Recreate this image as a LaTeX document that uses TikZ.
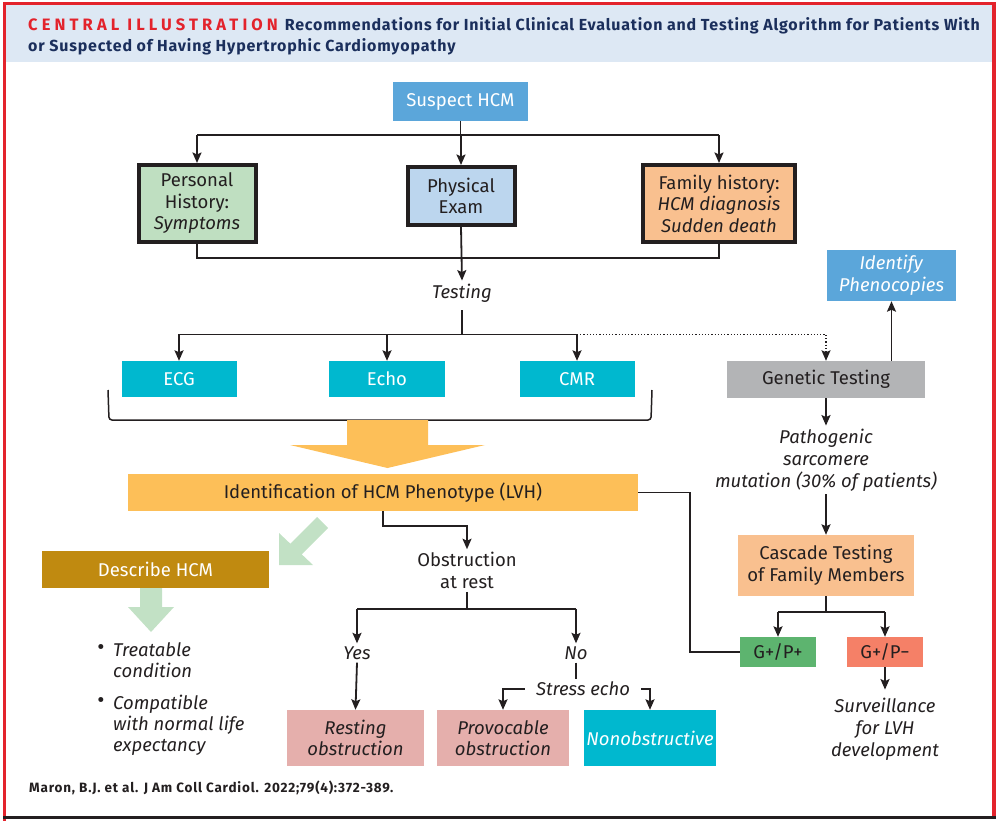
\documentclass[tikz,border=0pt]{standalone}
\usepackage{fontspec}
\setmainfont{Fira Sans}
\usetikzlibrary{arrows.meta,positioning,calc}
\definecolor{ink}{HTML}{231F20}
\definecolor{framered}{HTML}{E3232C}
\definecolor{headblue}{HTML}{DDE8F4}
\definecolor{titleblue}{HTML}{1B2F5C}
\definecolor{suspectblue}{HTML}{5BA6DA}
\definecolor{historygreen}{HTML}{BFDFC1}
\definecolor{exambblue}{HTML}{BCD6EE}
\definecolor{familyorange}{HTML}{F9C08F}
\definecolor{testcyan}{HTML}{00B8CF}
\definecolor{genegray}{HTML}{B3B4B6}
\definecolor{phenoorange}{HTML}{FDBF58}
\definecolor{describegold}{HTML}{C08A10}
\definecolor{obstrpink}{HTML}{E5AFAC}
\definecolor{posgreen}{HTML}{5DB46F}
\definecolor{negsalmon}{HTML}{F58067}
\definecolor{hintgreen}{HTML}{C2E1C5}

\begin{document}
\begin{tikzpicture}[
    x=1pt, y=-1pt,
    font=\fontsize{18.5}{21.5}\selectfont,
    plain/.style={inner sep=3pt, align=center, text=ink},
    fillbox/.style={rectangle, inner sep=0pt, align=center, text=ink},
    histbox/.style={fillbox, draw=ink, line width=4pt},
    conn/.style={draw=ink, line width=1.8pt},
    arrow/.style={conn, -{Stealth[length=10.5pt, width=9pt, inset=2pt]}},
    dotarrow/.style={draw=ink, line width=1.2pt, dotted, -{Stealth[length=10.5pt, width=9pt, inset=2pt]}}
]
\useasboundingbox (0,0) rectangle (1002,821);

% frame and header
\fill[headblue] (6,5.5) rectangle (992,62);
\draw[framered, line width=3.5pt] (4.5,821) -- (4.5,3.5) -- (994,3.5) -- (994,817);
\draw[ink, line width=2.5pt] (3,817.5) -- (995.5,817.5);
\node[anchor=base west, inner sep=0pt, align=left, text=titleblue,
      font=\fontsize{16}{21}\selectfont\bfseries\addfontfeature{LetterSpace=5}] (title) at (28,52)
  {{\fontsize{16.5}{21}\selectfont\color{framered}\addfontfeature{LetterSpace=25}CENTRAL ILLUSTRATION}\hspace{7pt}Recommendations for Initial Clinical Evaluation and Testing Algorithm for Patients With\\
   or Suspected of Having Hypertrophic Cardiomyopathy};

% evaluation
\node[fillbox, fill=suspectblue, text=white, minimum width=135pt, minimum height=39pt] (suspect) at (460.5,101.5) {Suspect HCM};
\node[histbox, fill=historygreen, minimum width=117pt, minimum height=77pt] (personal) at (197,203.5) {Personal\\History:\\\textit{Symptoms}};
\node[histbox, fill=exambblue, minimum width=107pt, minimum height=58pt] (physical) at (461,196) {Physical\\Exam};
\node[histbox, fill=familyorange, minimum width=152pt, minimum height=77pt] (family) at (719,203.5) {Family history:\\\textit{HCM diagnosis}\\\textit{Sudden death}};
\node[plain] (testing) at (462,293) {\textit{Testing}};

\draw[conn] (suspect.south) -- ++(0,14) coordinate (split1);
\draw[conn] (personal.north |- split1) -- (family.north |- split1);
\foreach \n in {personal,physical,family}
    \draw[arrow] (\n.north |- split1) -- (\n.north);
\draw[conn] (personal.south) -- ++(0,14) -| (family.south);
\draw[arrow] (physical.south) -- (testing.north);

% testing
\node[fillbox, fill=testcyan, text=white, minimum width=115pt, minimum height=36pt] (ecg) at (179,379) {ECG};
\node[fillbox, fill=testcyan, text=white, minimum width=116pt, minimum height=36pt] (echo) at (387,379) {Echo};
\node[fillbox, fill=testcyan, text=white, minimum width=115pt, minimum height=36pt] (cmr) at (577,379) {CMR};
\node[fillbox, fill=genegray, minimum width=198pt, minimum height=37pt] (genetic) at (826,379.5) {Genetic Testing};
\node[fillbox, fill=suspectblue, text=white, minimum width=129pt, minimum height=51pt] (identify) at (891.5,275.5) {\textit{Identify}\\\textit{Phenocopies}};

\draw[conn, shorten <=5pt] (testing.south) -- ++(0,29) coordinate (split2);
\draw[conn] (ecg.north |- split2) -- (cmr.north |- split2);
\foreach \n in {ecg,echo,cmr}
    \draw[arrow] (\n.north |- split2) -- (\n.north);
\draw[dotarrow] (cmr.north |- split2) -| (genetic.north);
\draw[arrow] (identify.south |- genetic.north) -- (identify.south);

% bracket and big arrow
\draw[ink, line width=1.5pt, rounded corners=3pt] (108,390) -- (109,420) -- (651,420) -- (652,390);
\fill[phenoorange] (347,420) -- (428,420) -- (428,445) -- (485,445) -- (387.5,468) -- (290,445) -- (347,445) -- cycle;

% phenotype
\node[fillbox, fill=phenoorange, minimum width=510pt, minimum height=37pt] (pheno) at (383,492.5) {Identification of HCM Phenotype (LVH)};
\node[plain] (obstr) at (467,570.5) {Obstruction\\at rest};
\node[plain] (yes) at (357,653) {\textit{Yes}};
\node[plain] (no) at (576,653) {\textit{No}};
\node[plain, inner xsep=11pt] (stress) at (583,689) {\textit{Stress echo}};
\node[fillbox, fill=obstrpink, minimum width=137pt, minimum height=56pt] (resting) at (355.5,738) {\textit{Resting}\\\textit{obstruction}};
\node[fillbox, fill=obstrpink, minimum width=132pt, minimum height=56pt] (provoc) at (503,738) {\textit{Provocable}\\\textit{obstruction}};
\node[fillbox, fill=testcyan, text=white, minimum width=132pt, minimum height=56pt] (nonob) at (650,738) {\textit{Nonobstructive}};

\draw[arrow] (pheno.south) -- ++(0,15) -| (obstr.north);
\draw[conn] (obstr.south) -- ++(0,17) coordinate (split3);
\draw[conn] (yes.north |- split3) -- (no.north |- split3);
\draw[arrow] (yes.north |- split3) -- (yes.north);
\draw[arrow] (no.north |- split3) -- (no.north);
\draw[arrow] (yes.south) -- (resting.north);
\draw[conn] (no.south) -- (no.south |- stress.north);
\draw[arrow] (stress.west) -| (provoc.north);
\draw[arrow] (stress.east) -| (nonob.north);

% describe
\node[fillbox, fill=describegold, text=white, minimum width=227pt, minimum height=37pt] (describe) at (155.5,569.5) {Describe HCM};
\fill[hintgreen] (317,517) -- (328,528) -- (301.7,554.3) -- (313,565) -- (279,565) -- (279,533) -- (290.3,543.7) -- cycle;
\fill[hintgreen] (140,588) -- (162,588) -- (162,607) -- (174,607) -- (151,632) -- (128,607) -- (140,607) -- cycle;
\node[plain, inner sep=0pt, font=\fontsize{22}{22}\selectfont] (dot1) at (101,650) {\textbullet};
\node[plain, inner sep=0pt, anchor=base west, align=left, font=\fontsize{18.5}{21}\selectfont\itshape] (item1) at (113,677) {Treatable\\condition};
\node[plain, inner sep=0pt, font=\fontsize{22}{22}\selectfont] (dot2) at (101,703) {\textbullet};
\node[plain, inner sep=0pt, anchor=base west, align=left, font=\fontsize{18.5}{21}\selectfont\itshape] (item2) at (113,751) {Compatible\\with normal life\\expectancy};

% genetics
\node[plain, font=\fontsize{18.5}{22}\selectfont\itshape] (patho) at (826,460) {Pathogenic\\sarcomere\\mutation (30\% of patients)};
\node[fillbox, fill=familyorange, minimum width=176pt, minimum height=61pt] (cascade) at (826,565.5) {Cascade Testing\\of Family Members};
\node[fillbox, fill=posgreen, minimum width=76pt, minimum height=30pt] (gplus) at (778,652) {G+/P+};
\node[fillbox, fill=negsalmon, minimum width=76pt, minimum height=30pt] (gminus) at (885,652) {G+/P−};
\node[plain, inner ysep=8pt, font=\fontsize{18.5}{22}\selectfont\itshape] (surv) at (885,729) {Surveillance\\for LVH\\development};

\draw[arrow] (genetic.south) -- (patho.north);
\draw[arrow] (patho.south) -- (cascade.north);
\draw[conn] (cascade.south) -- ++(0,16) coordinate (split4);
\draw[conn] (gplus.north |- split4) -- (gminus.north |- split4);
\draw[arrow] (gplus.north |- split4) -- (gplus.north);
\draw[arrow] (gminus.north |- split4) -- (gminus.north);
\draw[arrow] (gminus.south) -- (surv.north);
\draw[conn] (pheno.east) -- ++(52,0) |- (gplus.west);

\node[anchor=base west, inner sep=0pt, text=ink, font=\fontsize{13.5}{16}\selectfont\bfseries\addfontfeature{LetterSpace=6}] (cite) at (29,792) {Maron, B.J. et al. J Am Coll Cardiol. 2022;79(4):372-389.};
\end{tikzpicture}
\end{document}
